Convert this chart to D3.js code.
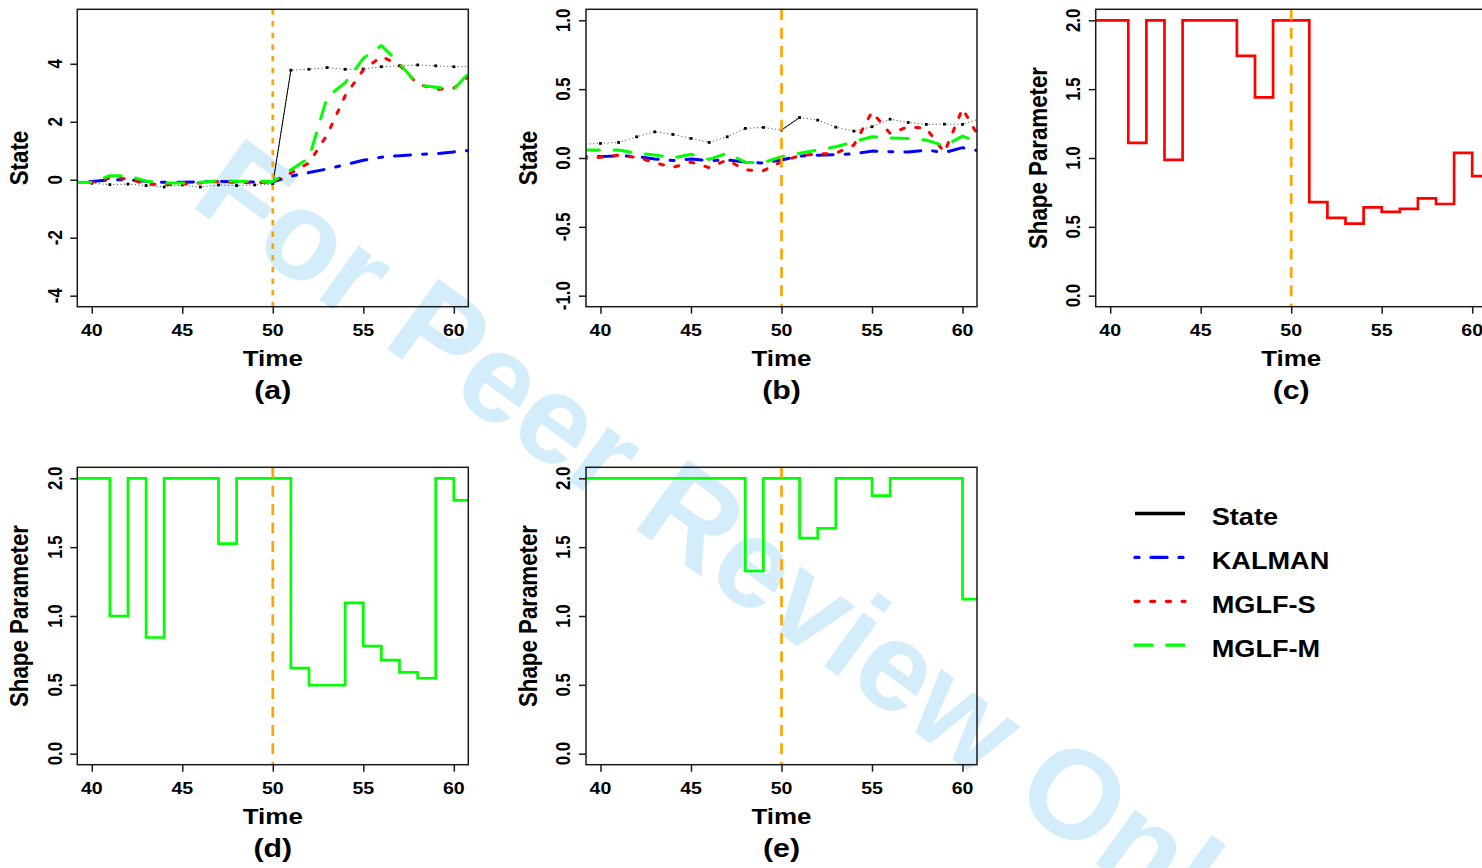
<!DOCTYPE html>
<html>
<head>
<meta charset="utf-8">
<script src="https://cdn.jsdelivr.net/npm/d3@7"></script>
<style>
  html, body { margin: 0; padding: 0; background: #fff; }
  svg { display: block; }
  text { font-family: "Liberation Sans", Arial, Helvetica, sans-serif; font-weight: bold; fill: #000; }
</style>
</head>
<body>
<svg id="chart" width="1482" height="868"></svg>
<script>
// ---- data ----------------------------------------------------------------
const times = [39, 40, 41, 42, 43, 44, 45, 46, 47, 48, 49, 50, 51, 52, 53, 54, 55, 56, 57, 58, 59, 60, 61];

// (a) state estimates, abrupt change at t = 50
const stateA  = [-0.12, -0.12, -0.17, -0.15, -0.20, -0.25, -0.18, -0.25, -0.18, -0.20, -0.18, -0.15, 3.78, 3.81, 3.87, 3.81, 3.82, 3.90, 3.93, 3.96, 3.93, 3.90, 3.90];
const kalmanA = [-0.08, -0.06, 0.00, 0.00, -0.05, -0.09, -0.09, -0.07, -0.06, -0.07, -0.08, -0.07, 0.12, 0.25, 0.37, 0.52, 0.67, 0.78, 0.83, 0.87, 0.90, 0.96, 1.02];
const mglfsA  = [-0.10, -0.09, 0.06, 0.03, -0.15, -0.17, -0.15, -0.11, -0.06, -0.09, -0.11, -0.06, 0.23, 0.58, 1.55, 2.90, 3.79, 4.25, 3.96, 3.30, 3.12, 3.16, 3.65];
const mglfmA  = [-0.10, -0.09, 0.14, 0.14, -0.05, -0.11, -0.11, -0.09, -0.03, -0.05, -0.05, -0.06, 0.34, 0.75, 2.85, 3.35, 4.19, 4.63, 4.02, 3.27, 3.19, 3.12, 3.80];

// (b) state estimates, small drift
const stateB  = [0.10, 0.106, 0.113, 0.154, 0.190, 0.171, 0.142, 0.113, 0.154, 0.215, 0.222, 0.203, 0.294, 0.275, 0.224, 0.195, 0.227, 0.282, 0.258, 0.244, 0.246, 0.244, 0.287];
const kalmanB = [0.01, 0.01, 0.017, 0.01, -0.007, -0.019, -0.007, -0.02, -0.014, -0.03, -0.036, -0.014, 0.014, 0.02, 0.024, 0.03, 0.05, 0.046, 0.043, 0.058, 0.04, 0.075, 0.05];
const mglfsB  = [-0.005, 0.005, 0.02, 0.005, -0.034, -0.068, -0.03, -0.07, -0.014, -0.087, -0.092, -0.027, 0.017, 0.029, 0.034, 0.094, 0.335, 0.178, 0.227, 0.215, 0.041, 0.359, 0.13];
const mglfmB  = [0.058, 0.058, 0.058, 0.034, 0.022, 0.0, 0.027, -0.01, 0.034, -0.031, -0.034, 0.01, 0.034, 0.058, 0.082, 0.118, 0.154, 0.145, 0.142, 0.13, 0.089, 0.159, 0.11];

// (c)-(e) estimated shape parameters (held constant over each step)
const shapeC = [2, 2, 1.11, 2, 0.987, 2, 2, 2, 1.742, 1.44, 2, 2, 0.68, 0.565, 0.523, 0.642, 0.608, 0.63, 0.707, 0.666, 1.037, 0.868, 0.868];
const shapeD = [2, 2, 1.0, 2, 0.844, 2, 2, 2, 1.525, 2, 2, 2, 0.622, 0.497, 0.497, 1.095, 0.782, 0.68, 0.591, 0.548, 2, 1.84, 1.84];
const shapeE = [2, 2, 2, 2, 2, 2, 2, 2, 2, 1.327, 2, 2, 1.566, 1.636, 2, 2, 1.875, 2, 2, 2, 2, 1.122, 1.122];

const xTicks = [40, 45, 50, 55, 60];
const yTicksA = [-4, -2, 0, 2, 4];
const yTicksB = [-1, -0.5, 0, 0.5, 1];
const yTicksShape = [0, 0.5, 1, 1.5, 2];
const changePoint = 50;

const legendNames = ["State", "KALMAN", "MGLF-S", "MGLF-M"];

// ---- styles --------------------------------------------------------------
const styles = {
  state:  { color: "#000000", width: 3,   dash: null },
  kalman: { color: "#0000FF", width: 3,   dash: "4,12,16,12" },
  mglfs:  { color: "#FF0000", width: 3,   dash: "4,11.7" },
  mglfm:  { color: "#00FF00", width: 3,   dash: "17,14.7" }
};
const STRETCH = 1.165;

const svg = d3.select("#chart");

// watermark sits underneath everything
svg.append("text")
  .attr("transform", "translate(188,204) rotate(36)")
  .attr("font-size", 126)
  .style("fill", "#d3edfb")
  .text("For Peer Review Only");

function label(g, x, y, str, size, rot) {
  return g.append("text")
    .attr("transform", `translate(${x},${y}) scale(${STRETCH},1)` + (rot ? ` rotate(${rot})` : ""))
    .attr("text-anchor", "middle")
    .attr("font-size", size)
    .text(str);
}

const colLeft = [77.3, 586, 1095.7];
const rowTop = [9.3, 467.3];
const W = 391, H = 297.4;
const fmtInt = v => String(v);
const fmt1 = v => v.toFixed(1);

let clipId = 0;
function panel(opts) {
  const { left, top, yDomain, yTicks, yFmt, yLabel, tag, series, cpDash } = opts;
  const g = svg.append("g");
  const x = d3.scaleLinear().domain([39.2, 60.8]).range([left, left + W]);
  const y = d3.scaleLinear().domain(yDomain).range([top + H, top]);

  const id = "clip" + (clipId++);
  svg.append("clipPath").attr("id", id)
    .append("rect").attr("x", left).attr("y", top).attr("width", W).attr("height", H);
  const plot = g.append("g").attr("clip-path", `url(#${id})`);

  series.forEach(s => {
    const pts = times.map((t, i) => [t, s.values[i]]);
    const line = d3.line().x(d => x(d[0])).y(d => y(d[1]))
      .curve(s.step ? d3.curveStepAfter : d3.curveLinear);
    if (s.thin) {
      plot.append("path").attr("d", line(pts))
        .attr("fill", "none").attr("stroke", "#333").attr("stroke-width", 0.8)
        .attr("stroke-dasharray", "1.2,2.4");
      plot.selectAll(null).data(pts).enter().append("rect")
        .attr("x", d => x(d[0]) - 1.4).attr("y", d => y(d[1]) - 1.4)
        .attr("width", 2.8).attr("height", 2.8).attr("fill", "#000");
      // the jump between consecutive observations is drawn solid
      plot.append("path").attr("d", line(pts.filter(d => d[0] >= 50 && d[0] <= 51)))
        .attr("fill", "none").attr("stroke", "#000").attr("stroke-width", 1);
    } else {
      plot.append("path").attr("d", line(pts))
        .attr("fill", "none")
        .attr("stroke", s.style.color)
        .attr("stroke-width", s.width || s.style.width)
        .attr("stroke-linecap", s.step ? "butt" : "round")
        .attr("stroke-linejoin", s.step ? "miter" : "round")
        .attr("stroke-dasharray", s.step ? null : s.style.dash);
    }
  });

  // change point marker
  plot.append("line")
    .attr("x1", x(changePoint)).attr("x2", x(changePoint))
    .attr("y1", top).attr("y2", top + H)
    .attr("stroke", "#FFA500").attr("stroke-width", 2.7)
    .attr("stroke-dasharray", cpDash);

  // frame
  g.append("rect").attr("x", left).attr("y", top).attr("width", W).attr("height", H)
    .attr("fill", "none").attr("stroke", "#1a1a1a").attr("stroke-width", 1.5);

  // x axis
  const xa = g.append("g").attr("transform", `translate(0,${top + H})`)
    .call(d3.axisBottom(x).tickValues(xTicks).tickSize(7).tickFormat(""));
  xa.select(".domain").remove();
  xa.selectAll("line").attr("stroke", "#1a1a1a").attr("stroke-width", 1.5);
  xTicks.forEach(t => label(g, x(t), top + H + 29.3, fmtInt(t), 16.8));

  // y axis
  const ya = g.append("g").attr("transform", `translate(${left},0)`)
    .call(d3.axisLeft(y).tickValues(yTicks).tickSize(7).tickFormat(""));
  ya.select(".domain").remove();
  ya.selectAll("line").attr("stroke", "#1a1a1a").attr("stroke-width", 1.5);
  yTicks.forEach(t => label(g, left - 15.6, y(t), yFmt(t), 16.8, -90));

  label(g, left + W / 2, top + H + 59, "Time", 22.3);
  label(g, left + W / 2, top + H + 92.5, tag, 26);
  label(g, left - 49, top + H / 2, yLabel, 22.3, -90);
}

const shortDash = "5.5,6.2", longDash = "11,7.4";

panel({
  left: colLeft[0], top: rowTop[0], yDomain: [-4.38, 5.88], yTicks: yTicksA, yFmt: fmtInt,
  yLabel: "State", tag: "(a)", cpDash: shortDash,
  series: [
    { values: stateA, thin: true },
    { values: kalmanA, style: styles.kalman },
    { values: mglfsA, style: styles.mglfs },
    { values: mglfmA, style: styles.mglfm }
  ]
});
panel({
  left: colLeft[1], top: rowTop[0], yDomain: [-1.08, 1.08], yTicks: yTicksB, yFmt: fmt1,
  yLabel: "State", tag: "(b)", cpDash: longDash,
  series: [
    { values: stateB, thin: true },
    { values: kalmanB, style: styles.kalman },
    { values: mglfsB, style: styles.mglfs },
    { values: mglfmB, style: styles.mglfm }
  ]
});
panel({
  left: colLeft[2], top: rowTop[0], yDomain: [-0.08, 2.08], yTicks: yTicksShape, yFmt: fmt1,
  yLabel: "Shape Parameter", tag: "(c)", cpDash: longDash,
  series: [{ values: shapeC, style: styles.mglfs, step: true, width: 2.7 }]
});
panel({
  left: colLeft[0], top: rowTop[1], yDomain: [-0.08, 2.08], yTicks: yTicksShape, yFmt: fmt1,
  yLabel: "Shape Parameter", tag: "(d)", cpDash: longDash,
  series: [{ values: shapeD, style: styles.mglfm, step: true, width: 2.7 }]
});
panel({
  left: colLeft[1], top: rowTop[1], yDomain: [-0.08, 2.08], yTicks: yTicksShape, yFmt: fmt1,
  yLabel: "Shape Parameter", tag: "(e)", cpDash: longDash,
  series: [{ values: shapeE, style: styles.mglfm, step: true, width: 2.7 }]
});

// legend
const legendStyles = [styles.state, styles.kalman, styles.mglfs, styles.mglfm];
const lg = svg.append("g");
legendNames.forEach((name, i) => {
  const yy = 513.5 + i * 43.9;
  const st = legendStyles[i];
  lg.append("line")
    .attr("x1", 1135).attr("x2", 1185).attr("y1", yy).attr("y2", yy)
    .attr("stroke", st.color).attr("stroke-width", 3.3)
    .attr("stroke-linecap", st.dash ? "round" : "butt")
    .attr("stroke-dasharray", st.dash);
  lg.append("text")
    .attr("transform", `translate(1211.7,${yy + 11.5}) scale(${STRETCH},1)`)
    .attr("font-size", 23.3)
    .text(name);
});
</script>
</body>
</html>
